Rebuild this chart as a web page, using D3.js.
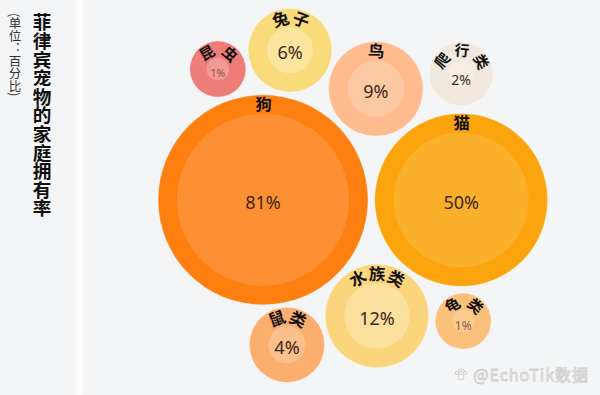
<!DOCTYPE html>
<html><head><meta charset="utf-8">
<script src="https://cdn.jsdelivr.net/npm/d3@7"></script>
<style>body{margin:0;background:#f4f5f6} svg{display:block}</style>
</head><body><svg id="c" width="600" height="395"></svg>
<script>
// ---- data ----
const categories = ["狗","猫","水族类","鸟","兔子","鼠类","爬行类","昆虫","龟类"];
const values = [81,50,12,9,6,4,2,1,1];
const valueLabels = values.map(v => v + "%");
const title = "菲律宾宠物的家庭拥有率";
const subtitle = "(单位：百分比)";
const watermark = "@EchoTik数据";

// ---- layout hints (percent of plot area), resolved by a force layout ----
const layoutX = [35.2,73.3,57.1,56.9,40.4,39.8,73.3,26.5,73.7];
const layoutY = [50.6,50.6,80.0,22.5,12.7,87.3,18.7,17.5,81.3];

// ---- styles ----
const outerColors = ["#fc7f10","#fba40e","#fbd57b","#fdbb8e","#fadb7c","#fbae6d","#f1e9e0","#ee7c78","#fbc079"];
const innerColors = ["#fd9033","#fbb02c","#fce09d","#fdc9a3","#fbe59f","#fcc08c","#f4eee7","#f19b97","#fccb8f"];

const W = 600, H = 395;
const svg = d3.select("#c");
svg.append("rect").attr("width", W).attr("height", H).attr("fill", "#f4f5f6");

// divider
const defs = svg.append("defs");
const grad = defs.append("linearGradient").attr("id","dv");
grad.append("stop").attr("offset","0%").attr("stop-color","#fff").attr("stop-opacity",0);
grad.append("stop").attr("offset","50%").attr("stop-color","#fff").attr("stop-opacity",1);
grad.append("stop").attr("offset","100%").attr("stop-color","#fff").attr("stop-opacity",0);
svg.append("rect").attr("x",74).attr("y",0).attr("width",11).attr("height",H).attr("fill","url(#dv)");

// titles (vertical)
svg.append("text").attr("x", 42).attr("y", 13)
  .style("writing-mode","vertical-rl")
  .attr("font-family","'Noto Sans CJK SC'").attr("font-weight","bold")
  .attr("font-size",18.6).attr("fill","#111").text(title);
svg.append("text").attr("x", 15).attr("y", 13)
  .style("writing-mode","vertical-rl")
  .attr("font-family","'Noto Sans CJK SC'")
  .attr("font-size",12.5).attr("fill","#333").text(subtitle);

// scales
const xS = d3.scaleLinear().domain([0,100]).range([80,600]);
const yS = d3.scaleLinear().domain([0,100]).range([0,395]);
const rS = d3.scaleSqrt().domain([0,81]).range([18.4,105]);

const nodes = categories.map((c,i) => ({
  i, name:c, value:values[i], label:valueLabels[i], r:rS(values[i]),
  tx:xS(layoutX[i]), ty:yS(layoutY[i]), x:xS(layoutX[i]), y:yS(layoutY[i])
}));
const sim = d3.forceSimulation(nodes)
  .force("x", d3.forceX(d => d.tx).strength(0.6))
  .force("y", d3.forceY(d => d.ty).strength(0.6))
  .force("collide", d3.forceCollide(d => d.r + 1))
  .stop();
for (let k = 0; k < 150; k++) sim.tick();

const g = svg.selectAll("g.b").data(nodes).join("g").attr("class","b")
  .attr("transform", d => `translate(${d.x},${d.y})`);

g.append("circle").attr("r", d => d.r).attr("fill", d => outerColors[d.i])
  .attr("stroke","#fff").attr("stroke-opacity",0.35).attr("stroke-width",1);
g.append("circle").attr("r", d => Math.max(d.r - 19, d.r * 0.4)).attr("fill", d => innerColors[d.i]);

const labFs = d => d.r < 35 ? 15 : 16.5;
const labLs = d => d.r < 35 ? 2.5 : 0.5;
const labB = d => d.r - (d.r < 35 ? 8.5 : 9.5) - 0.38 * labFs(d);
nodes.forEach(d => {
  const b = labB(d);
  defs.append("path").attr("id","lp"+d.i)
    .attr("d", `M ${d.x},${d.y + b} A ${b},${b} 0 1,1 ${d.x},${d.y - b} A ${b},${b} 0 1,1 ${d.x},${d.y + b}`);
});
svg.selectAll("text.lab").data(nodes).join("text").attr("class","lab")
  .attr("font-family","'Noto Sans CJK SC'").attr("font-weight","bold")
  .attr("font-size", d => labFs(d)).attr("fill","#111").attr("letter-spacing", d => labLs(d))
  .append("textPath").attr("href", d => "#lp"+d.i)
  .attr("startOffset", d => Math.PI * labB(d) + labLs(d) / 2)
  .attr("text-anchor","middle").text(d => d.name);

g.append("text").attr("text-anchor","middle").attr("dominant-baseline","central")
  .attr("y", d => d.value === 2 ? 6 : (d.value === 1 ? 4 : 2))
  .attr("font-family","'Noto Sans', sans-serif")
  .attr("font-size", d => d.value >= 4 ? 18 : (d.value === 2 ? 14 : (d.i === 7 ? 10.5 : 12)))
  .attr("fill", d => d.value >= 2 ? "#3a281c" : "#6a3f30")
  .attr("fill-opacity", d => d.value >= 2 ? 1 : 0.8)
  .text(d => d.label);

// watermark
svg.append("text").attr("x", 589).attr("y", 381).attr("text-anchor","end")
  .attr("font-family","'Noto Sans CJK SC'").attr("font-size", 16).attr("letter-spacing", 1)
  .attr("fill","#f4f5f6").attr("stroke","#cfcfcf").attr("stroke-width",0.8)
  .text(watermark);
svg.append("g").attr("transform","translate(461,375)").attr("fill","none").attr("stroke","#cfcfcf")
  .selectAll("circle").data([[0,2,3],[-4,-2,1.6],[-1.3,-4.5,1.6],[1.8,-4.5,1.6],[4.3,-2,1.6]]).join("circle")
  .attr("cx", d => d[0]).attr("cy", d => d[1]).attr("r", d => d[2]);
</script></body></html>
